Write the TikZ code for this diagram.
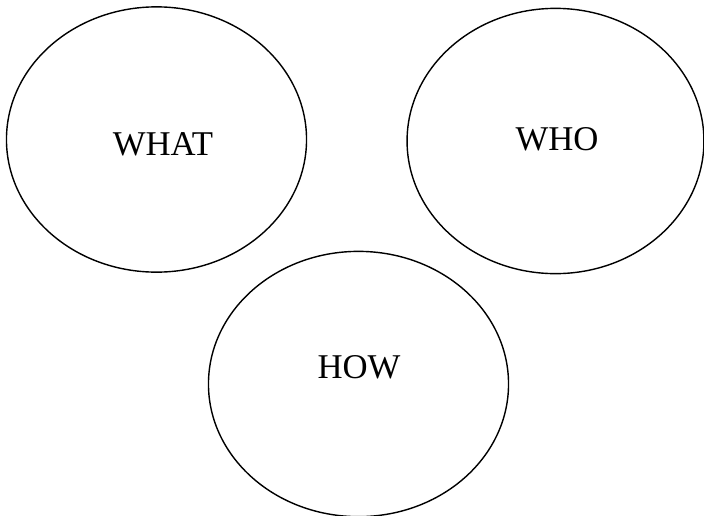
\documentclass[tikz,border=0pt]{standalone}
\usepackage{fontspec}
\setmainfont{Liberation Serif}
\usepackage{xcolor}
\usepackage{tikz}
\usetikzlibrary{shapes.geometric}

\begin{document}
\begin{tikzpicture}[x=0.025cm, y=-0.025cm, font=\fontsize{24.7pt}{28pt}\selectfont,
  circ/.style={ellipse, draw=black, line width=1pt, inner sep=0pt,
    minimum width=7.5cm, minimum height=6.63cm},
  lab/.style={anchor=base, inner sep=0pt}]
\useasboundingbox (0,0) rectangle (704,515);
% the three ellipses
\node[circ] (what) at (156.5,139.5) {};
\node[circ, minimum width=7.42cm] (who) at (555.5,141) {};
\node[circ] (how) at (358.5,384) {};
% labels
\node[lab] (whatlab) at (163,155) {WHAT};
\node[lab] (wholab) at (557,150) {WHO};
\node[lab] (howlab) at (359,378) {HOW};
\end{tikzpicture}
\end{document}
